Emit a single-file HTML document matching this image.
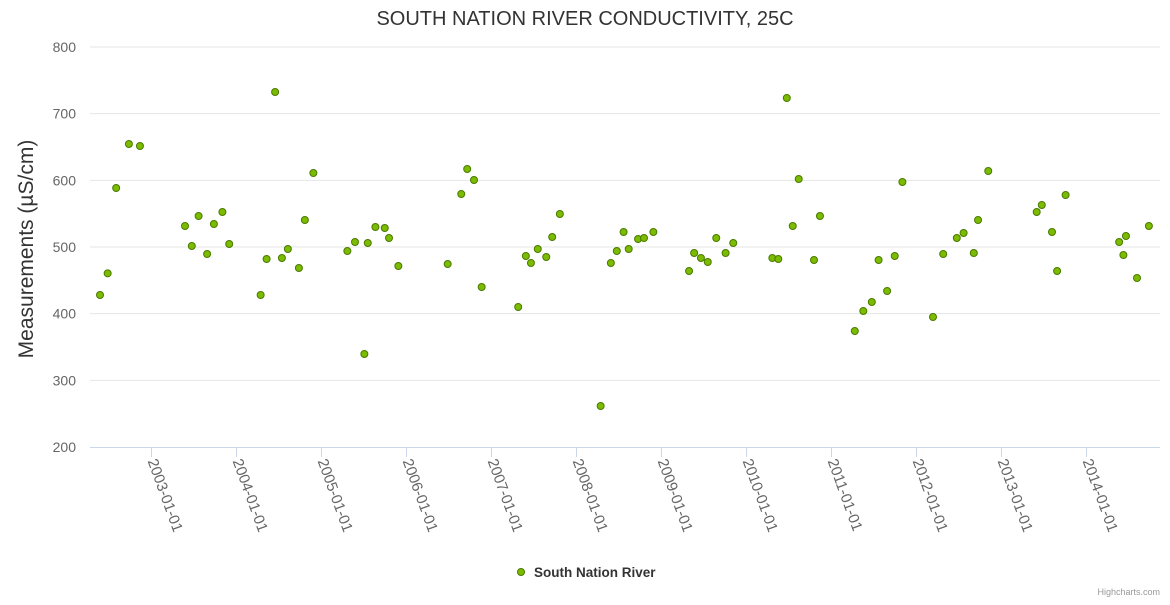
<!DOCTYPE html>
<html><head><meta charset="utf-8"><style>
body{margin:0;background:#fff;font-family:"Liberation Sans",sans-serif;}
svg text{font-family:"Liberation Sans",sans-serif;}
</style></head><body>
<svg id="chart" width="1170" height="600" xmlns="http://www.w3.org/2000/svg">
<rect x="0" y="0" width="1170" height="600" fill="#fff"/>
<text x="585" y="25" text-anchor="middle" font-size="20" fill="#333">SOUTH NATION RIVER CONDUCTIVITY, 25C</text>
<text transform="translate(33,249) rotate(-90)" text-anchor="middle" font-size="21" fill="#333">Measurements (µS/cm)</text>
<g id="grid"></g><g id="xaxis"></g><g id="points"></g>
<g>
<circle cx="521" cy="572" r="3.5" fill="#7bbb00" stroke="#4a7a00" stroke-width="1"/>
<text x="534" y="577" font-size="13.5" font-weight="bold" fill="#333">South Nation River</text>
</g>
<text x="1160" y="595" text-anchor="end" font-size="9" fill="#999">Highcharts.com</text>
</svg>
<script>
const years=[2002.40,2002.49,2002.59,2002.74,2002.87,2003.40,2003.48,2003.56,2003.66,2003.74,2003.84,2003.92,
2004.29,2004.36,2004.46,2004.54,2004.61,2004.74,2004.81,2004.91,
2005.31,2005.40,2005.51,2005.55,2005.64,2005.75,2005.80,2005.91,
2006.49,2006.65,2006.72,2006.80,2006.89,
2007.32,2007.41,2007.47,2007.55,2007.65,2007.72,2007.81,
2008.29,2008.41,2008.48,2008.56,2008.62,2008.73,2008.80,2008.91,
2009.33,2009.39,2009.47,2009.55,2009.65,2009.76,2009.85,
2010.31,2010.38,2010.48,2010.55,2010.62,2010.80,2010.87,
2011.28,2011.38,2011.48,2011.56,2011.66,2011.75,2011.84,
2012.20,2012.32,2012.48,2012.56,2012.68,2012.73,2012.85,
2013.42,2013.48,2013.60,2013.66,2013.76,
2014.39,2014.44,2014.47,2014.60,2014.74];
const values=[428,460.5,588.5,654.5,651.5,531.5,501.5,546.5,489.5,534.5,552.5,504.5,
428,482,732.5,483.5,497,468.5,540.5,611,
494,507.5,339.5,506,530,528.5,513.5,471.5,
474.5,579.5,617,600.5,440,
410,486.5,476,497,485,515,549.5,
261.5,476,494,522.5,497,512,513.5,522.5,
464,491,483.5,477.5,513.5,491,506,
483.5,482,723.5,531.5,602,480.5,546.5,
374,404,417.5,480.5,434,486.5,597.5,
395,489.5,513.5,521,491,540.5,614,
552.5,563,522.5,464,578,
507.5,488,516.5,453.5,531.5];
const yTicks=[200,300,400,500,600,700,800];
const xTickYears=[2003,2004,2005,2006,2007,2008,2009,2010,2011,2012,2013,2014];
const xTickLabels=["2003-01-01","2004-01-01","2005-01-01","2006-01-01","2007-01-01","2008-01-01","2009-01-01","2010-01-01","2011-01-01","2012-01-01","2013-01-01","2014-01-01"];
const NS="http://www.w3.org/2000/svg";
const L=90,R=1160,T=47,B=447;
function yS(v){return B-(v-200)/600*(B-T);}
function xS(y){return 151+(y-2003)*85;}
function mk(t,a,p){const e=document.createElementNS(NS,t);for(const k in a)e.setAttribute(k,a[k]);p.appendChild(e);return e;}
const grid=document.getElementById('grid');
yTicks.forEach(v=>{
 if(v>200){const l=mk('line',{x1:L,x2:R,y1:yS(v),y2:yS(v),stroke:'#e6e6e6','stroke-width':1},grid);
 
 }
 const t=mk('text',{x:76,y:yS(v)+5,'text-anchor':'end','font-size':14,fill:'#666'},grid);
 t.textContent=v;
 
 
});
const xa=document.getElementById('xaxis');
const ax=mk('line',{x1:L,x2:R,y1:B+0.5,y2:B+0.5,stroke:'#ccd6eb','stroke-width':1},xa);


xTickYears.forEach((yr,i)=>{
 const x=Math.round(xS(yr))+0.5;
 const tk=mk('line',{x1:x,x2:x,y1:B,y2:B+10,stroke:'#ccd6eb','stroke-width':1},xa);
 
 
 const t=mk('text',{transform:'translate('+(x-4)+','+(B+14)+') rotate(70)','font-size':15,fill:'#666'},xa);
 t.textContent=xTickLabels[i];
 
 
});
const pts=document.getElementById('points');
years.forEach((yr,i)=>{
 const c=mk('circle',{cx:xS(yr),cy:yS(values[i]),r:3.5,fill:'#7bbb00',stroke:'#4a7a00','stroke-width':1},pts);
 
 
});
</script>
</body></html>
